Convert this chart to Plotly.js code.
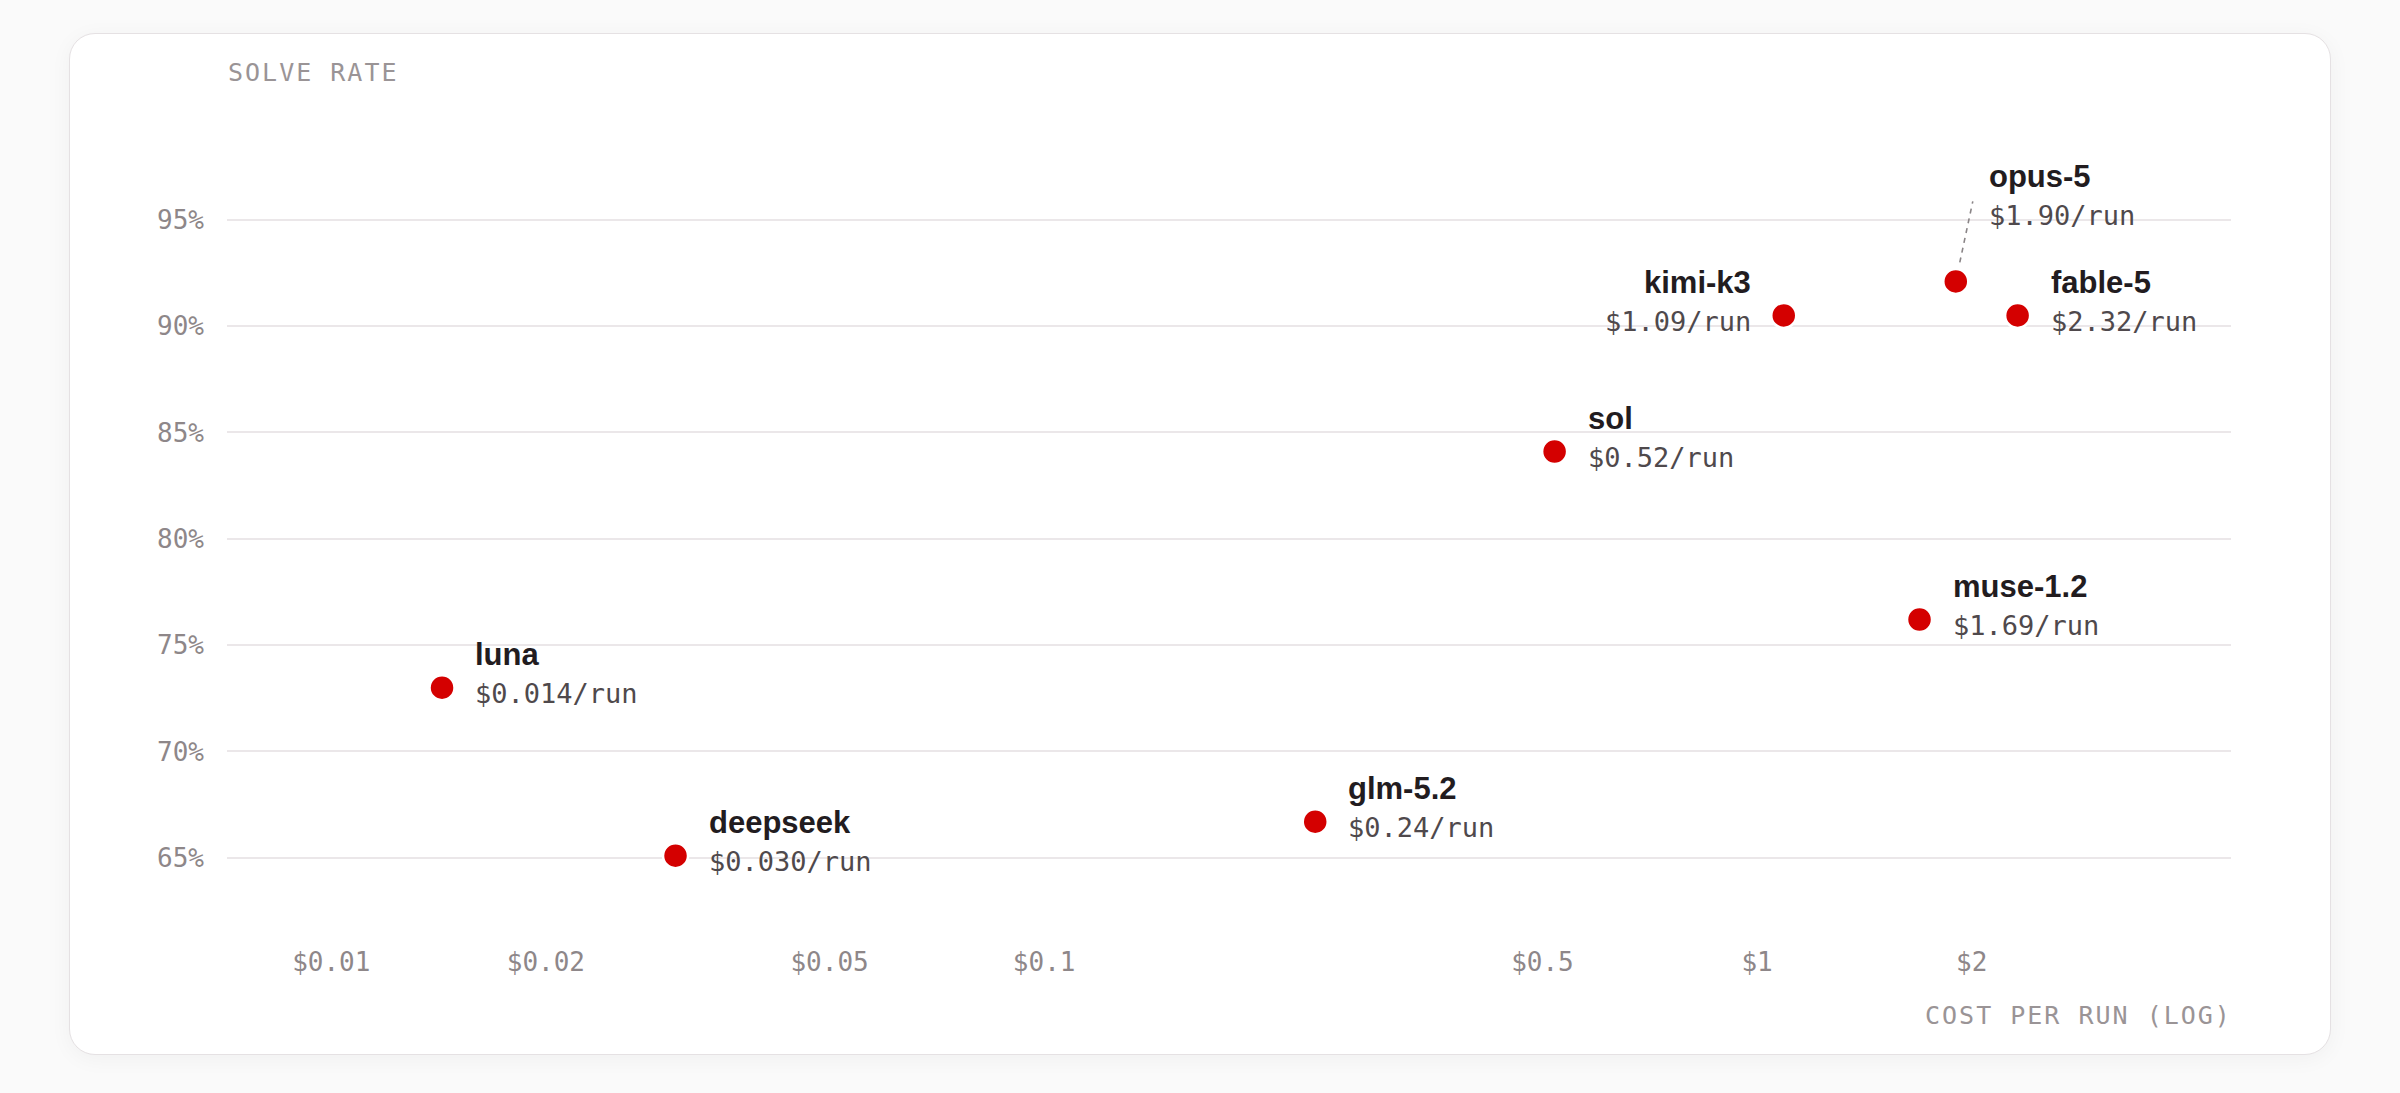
<!DOCTYPE html>
<html>
<head>
<meta charset="utf-8">
<script src="https://cdn.plot.ly/plotly-3.0.1.min.js"></script>
<style>
  html, body { margin: 0; padding: 0; background: #fafafa; }
  #card {
    position: absolute; left: 69px; top: 33px; width: 2262px; height: 1022px;
    box-sizing: border-box; background: #fff; border: 1.5px solid #e5e1e3;
    border-radius: 26px; box-shadow: 0 4px 22px rgba(0,0,0,0.045);
  }
  #myDiv { position: absolute; left: 0; top: 0; width: 2400px; height: 1093px; }
  /* spaced caps for the two axis captions */
  g.annotation[data-index="0"] text, g.annotation[data-index="1"] text { letter-spacing: 2px; }
</style>
</head>
<body>
<div id="card"></div>
<div id="myDiv"></div>
<script>
// Models, cost per run ($) and solve rate (%)
var models = ['luna', 'deepseek', 'glm-5.2', 'sol', 'kimi-k3', 'muse-1.2', 'opus-5', 'fable-5'];
var costs = [0.0143, 0.0304, 0.24, 0.52, 1.09, 1.69, 1.90, 2.32];
var solveRates = [73.0, 65.1, 66.7, 84.1, 90.5, 76.2, 92.1, 90.5];

// Axis ticks
var xTickVals = [0.01, 0.02, 0.05, 0.1, 0.5, 1, 2];
var xTickText = ['$0.01', '$0.02', '$0.05', '$0.1', '$0.5', '$1', '$2'];
var yTickVals = [65, 70, 75, 80, 85, 90, 95];
var yTickText = ['65%', '70%', '75%', '80%', '85%', '90%', '95%'];

// Where a label sits when it is not to the right of its dot
var placement = {'kimi-k3': 'left', 'opus-5': 'above'};

var mono = 'DejaVu Sans Mono, monospace';
var sans = 'Liberation Sans, Arial, sans-serif';

function price(c) {
  return '$' + (c < 0.1 ? c.toFixed(3) : c.toFixed(2)) + '/run';
}

var trace = {
  x: costs,
  y: solveRates,
  type: 'scatter',
  mode: 'markers',
  marker: {size: 25, color: '#d40000', line: {color: '#ffffff', width: 2.5}},
  hoverinfo: 'skip'
};

var annotations = [
  {xref: 'paper', yref: 'paper', x: 0, y: 1.0994, xanchor: 'left', yanchor: 'middle', xshift: 9,
   text: 'SOLVE RATE', showarrow: false, font: {family: mono, size: 25, color: '#9a9496'}},
  {xref: 'paper', yref: 'paper', x: 0.997, y: -0.110, xanchor: 'right', yanchor: 'middle', xshift: -9,
   text: 'COST PER RUN (LOG)', showarrow: false, font: {family: mono, size: 25, color: '#9a9496'}}
];

var shapes = [];

models.forEach(function(m, i) {
  var side = placement[m] || 'right';
  var lift = side === 'above' ? 72 : 0;
  var dx = side === 'left' ? -31 : 31;
  var anchor = side === 'left' ? 'right' : 'left';
  // annotations on a log axis take log10 of the value
  annotations.push({
    x: Math.log10(costs[i]), y: solveRates[i], xref: 'x', yref: 'y',
    xanchor: anchor, yanchor: 'middle', xshift: dx, yshift: 33 + lift,
    text: m, showarrow: false,
    font: {family: sans, size: 31, weight: 700, color: '#221c1f'}
  });
  annotations.push({
    x: Math.log10(costs[i]), y: solveRates[i], xref: 'x', yref: 'y',
    xanchor: anchor, yanchor: 'middle', xshift: dx, yshift: -6 + lift,
    text: price(costs[i]), showarrow: false,
    font: {family: mono, size: 27, color: '#4f494c'}
  });
  if (side === 'above') {
    // dashed leader from the dot up to its raised label
    shapes.push({
      type: 'line', xref: 'x', yref: 'y',
      xsizemode: 'pixel', ysizemode: 'pixel',
      xanchor: costs[i], yanchor: solveRates[i],
      x0: 4, y0: 19, x1: 17, y1: 80,
      line: {color: '#8a8587', width: 1.6, dash: '5px,5px'}
    });
  }
});

var layout = {
  width: 2400,
  height: 1093,
  margin: {l: 227, r: 169, t: 150, b: 163},
  paper_bgcolor: 'rgba(0,0,0,0)',
  plot_bgcolor: 'rgba(0,0,0,0)',
  showlegend: false,
  xaxis: {
    type: 'log',
    range: [-2.1463, 0.6648],
    tickvals: xTickVals,
    ticktext: xTickText,
    showgrid: false,
    zeroline: false,
    showline: false,
    ticks: '',
    ticklabelstandoff: 14,
    tickfont: {family: mono, size: 26, color: '#8e8789'}
  },
  yaxis: {
    range: [61.605, 98.277],
    tickvals: yTickVals,
    ticktext: yTickText,
    showgrid: true,
    gridcolor: '#ebe7e9',
    gridwidth: 2,
    zeroline: false,
    showline: false,
    ticks: '',
    ticklabelstandoff: 22,
    tickfont: {family: mono, size: 26, color: '#8e8789'}
  },
  annotations: annotations,
  shapes: shapes
};

Plotly.newPlot('myDiv', [trace], layout, {staticPlot: true, displayModeBar: false});
</script>
</body>
</html>
